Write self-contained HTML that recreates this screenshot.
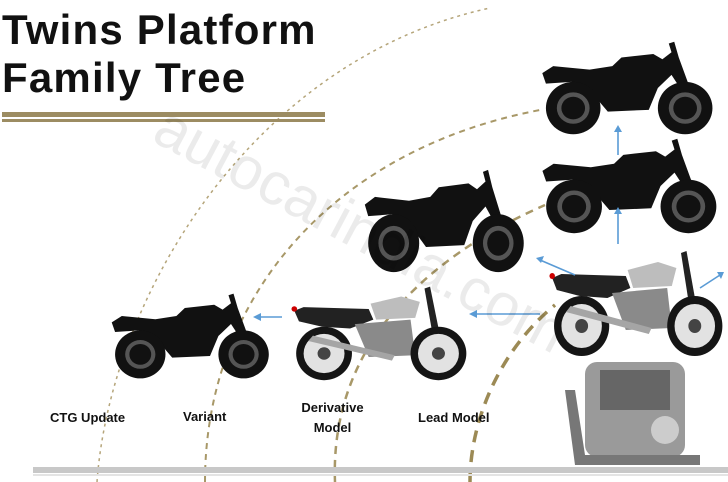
<!DOCTYPE html>
<html><head><meta charset="utf-8"><style>
html,body{margin:0;padding:0;background:#fff;}
body{width:728px;height:482px;position:relative;overflow:hidden;font-family:"Liberation Sans",sans-serif;}
.t{position:absolute;left:2px;top:6px;font-size:42px;font-weight:bold;line-height:48px;color:#111;letter-spacing:1.2px}
.l{position:absolute;font-size:13px;font-weight:bold;color:#111;text-align:center;line-height:20px}
</style></head><body>
<svg width="728" height="482" style="position:absolute;left:0;top:0">
<defs>
<symbol id="bk" viewBox="0 0 200 110" preserveAspectRatio="none">
<path d="M8 38 L20 30 L60 34 L85 30 L95 20 L130 16 L140 22 L150 14 L147 4 L153 2 L158 20 L172 60 L165 64 L150 40 L135 55 L125 80 L80 82 L62 60 L40 48 L12 50 Z" fill="#111"/>
<circle cx="42" cy="78" r="30" fill="#111"/>
<circle cx="42" cy="78" r="18" fill="#555"/>
<circle cx="42" cy="78" r="13" fill="#111"/>
<circle cx="165" cy="78" r="30" fill="#111"/>
<circle cx="165" cy="78" r="18" fill="#555"/>
<circle cx="165" cy="78" r="13" fill="#111"/>
</symbol>
<symbol id="bc" viewBox="0 0 200 110" preserveAspectRatio="none">
<path d="M10 30 L20 26 L90 28 L95 40 L70 50 L40 48 L15 42 Z" fill="#222"/>
<path d="M92 22 L125 14 L145 20 L140 38 L98 40 Z" fill="#bdbdbd"/>
<path d="M75 45 L135 40 L140 80 L90 82 Z" fill="#8a8a8a"/>
<path d="M150 5 L156 3 L170 75 L162 76 Z" fill="#222"/>
<circle cx="42" cy="78" r="30" fill="#151515"/>
<circle cx="42" cy="78" r="22" fill="#e2e2e2"/>
<circle cx="42" cy="78" r="7" fill="#444"/>
<circle cx="165" cy="78" r="30" fill="#151515"/>
<circle cx="165" cy="78" r="22" fill="#e2e2e2"/>
<circle cx="165" cy="78" r="7" fill="#444"/>
<path d="M25 64 L115 86 L118 80 L30 58 Z" fill="#a5a5a5"/>
<circle cx="10" cy="28" r="3" fill="#c00"/>
</symbol>
</defs>
<path d="M97 482 C110 300 250 60 490 8" fill="none" stroke="#b5a57a" stroke-width="1.5" stroke-dasharray="3 4"/>
<path d="M205 482 C205 300 330 150 540 110" fill="none" stroke="#a89868" stroke-width="2" stroke-dasharray="6 5"/>
<path d="M335 482 C330 350 420 260 545 205" fill="none" stroke="#a89868" stroke-width="2.5" stroke-dasharray="8 6"/>
<path d="M470 482 C470 420 500 350 555 305" fill="none" stroke="#9c8a55" stroke-width="3.5" stroke-dasharray="12 8"/>
<rect x="2" y="112" width="323" height="5" fill="#9c8c62"/>
<rect x="2" y="119" width="323" height="3" fill="#9c8c62"/>
<rect x="33" y="467" width="695" height="6" fill="#c8c8c8"/>
<rect x="33" y="474" width="695" height="2" fill="#e4e4e4"/>
<use href="#bk" x="535" y="40" width="182" height="96"/>
<use href="#bk" x="535" y="137" width="186" height="98"/>
<use href="#bk" x="358" y="168" width="170" height="106"/>
<use href="#bk" x="105" y="292" width="168" height="88"/>
<use href="#bc" x="543" y="248" width="184" height="110"/>
<use href="#bc" x="285" y="284" width="186" height="98"/>
<rect x="585" y="362" width="100" height="95" rx="12" fill="#9a9a9a"/>
<rect x="600" y="370" width="70" height="40" fill="#666"/>
<path d="M565 390 L575 465 L700 465 L700 455 L585 455 L575 390 Z" fill="#777"/>
<circle cx="665" cy="430" r="14" fill="#ccc"/>
<g stroke="#5a9bd5" stroke-width="1.6" fill="#5a9bd5">
<line x1="618" y1="155" x2="618" y2="130"/><path d="M614 132 L618 125 L622 132Z" stroke="none"/>
<line x1="618" y1="244" x2="618" y2="212"/><path d="M614 214 L618 207 L622 214Z" stroke="none"/>
<line x1="575" y1="275" x2="540" y2="260"/><path d="M536 258 L544 256 L541 263Z" stroke="none"/>
<line x1="540" y1="314" x2="475" y2="314"/><path d="M469 314 L477 310 L477 318Z" stroke="none"/>
<line x1="282" y1="317" x2="260" y2="317"/><path d="M253 317 L261 313 L261 321Z" stroke="none"/>
<line x1="700" y1="288" x2="720" y2="275"/><path d="M724 272 L717 272 L721 279Z" stroke="none"/>
</g>
<text x="150" y="140" transform="rotate(28 150 140)" font-family="Liberation Sans,sans-serif" font-size="60" fill="#000" fill-opacity="0.08">autocarindia.com</text>
</svg>
<div class="t">Twins Platform<br>Family Tree</div>
<div class="l" style="left:50px;top:408px">CTG Update</div>
<div class="l" style="left:183px;top:407px">Variant</div>
<div class="l" style="left:290px;top:398px;width:85px">Derivative<br>Model</div>
<div class="l" style="left:418px;top:408px">Lead Model</div>
</body></html>
